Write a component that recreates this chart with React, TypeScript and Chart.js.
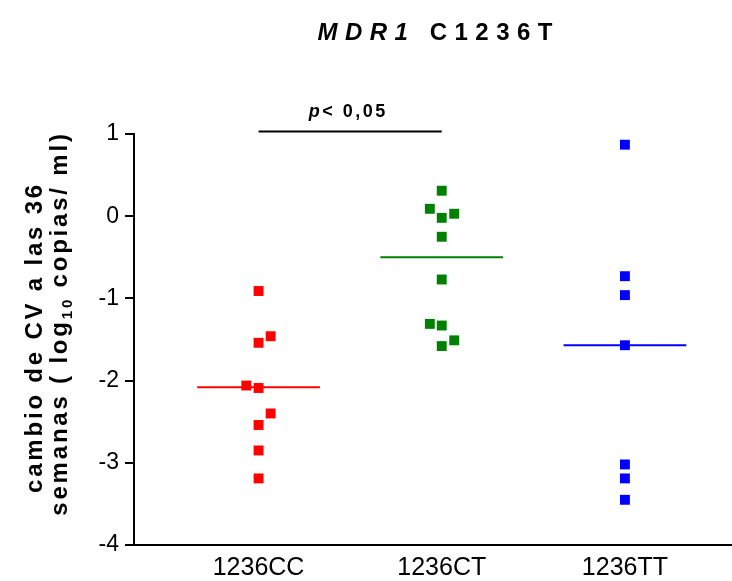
import React, { useEffect, useRef } from 'react';
import { Chart, registerables } from 'chart.js';

Chart.register(...registerables);

const categories = ['1236CC', '1236CT', '1236TT'];
const ccValues = [-0.91, -1.46, -1.54, -2.06, -2.09, -2.4, -2.54, -2.85, -3.19];
const ccJitter = [0, 0.066, 0, -0.067, 0, 0.066, 0, 0, 0];
const ctValues = [0.31, 0.09, 0.03, -0.02, -0.25, -0.77, -1.31, -1.33, -1.51, -1.58];
const ctJitter = [0, -0.065, 0.068, 0, 0, 0, -0.065, 0, 0.068, 0];
const ttValues = [0.87, -0.73, -0.96, -1.57, -3.02, -3.19, -3.45];
const ttJitter = [0, 0, 0, 0, 0, 0, 0];
const medians = [-2.08, -0.5, -1.57];
const groupColors = ['#ff0000', '#008000', '#0000ff'];
const sigFrom = 1;
const sigTo = 2;
const sigLevel = 1.03;
const sigText = ['p', '< 0,05'];
const titleParts = ['MDR1', ' C1236T'];
const yTitleLine1 = 'cambio de CV a las 36';
const yTitleLine2 = ['semanas ( log', '10', ' copias/ ml)'];

const FONT = '"Liberation Sans", Arial, Helvetica, sans-serif';

const groups = [
  { values: ccValues, jitter: ccJitter },
  { values: ctValues, jitter: ctJitter },
  { values: ttValues, jitter: ttJitter },
];

const annotationsPlugin = {
  id: 'annotations',
  afterDraw(chart: any) {
    const { ctx, chartArea, scales } = chart;
    const x = scales.x;
    const y = scales.y;
    ctx.save();
    ctx.fillStyle = '#000';
    ctx.strokeStyle = '#000';

    // Title
    ctx.textBaseline = 'alphabetic';
    ctx.textAlign = 'left';
    (ctx as any).letterSpacing = '7.5px';
    const f1 = `italic bold 24px ${FONT}`;
    const f2 = `bold 24px ${FONT}`;
    ctx.font = f1;
    const w1 = ctx.measureText(titleParts[0]).width;
    ctx.font = f2;
    const w2 = ctx.measureText(titleParts[1]).width;
    const cx = (x.getPixelForValue(1) + x.getPixelForValue(3)) / 2 - 3;
    const sx = cx - (w1 + w2) / 2;
    ctx.font = f1;
    ctx.fillText(titleParts[0], sx, 40);
    ctx.font = f2;
    ctx.fillText(titleParts[1], sx + w1, 40);

    // Significance bar
    const x1 = x.getPixelForValue(sigFrom);
    const x2 = x.getPixelForValue(sigTo);
    const yb = y.getPixelForValue(sigLevel);
    ctx.lineWidth = 2;
    ctx.beginPath();
    ctx.moveTo(x1, yb);
    ctx.lineTo(x2, yb);
    ctx.stroke();
    (ctx as any).letterSpacing = '2.5px';
    const p1 = `italic bold 18px ${FONT}`;
    const p2 = `bold 18px ${FONT}`;
    ctx.font = p1;
    const pw1 = ctx.measureText(sigText[0]).width;
    ctx.font = p2;
    const pw2 = ctx.measureText(sigText[1]).width;
    const px = (x1 + x2) / 2 - (pw1 + pw2) / 2 - 2;
    ctx.font = p1;
    ctx.fillText(sigText[0], px, yb - 15);
    ctx.font = p2;
    ctx.fillText(sigText[1], px + pw1, yb - 15);

    // Y axis title
    (ctx as any).letterSpacing = '2.8px';
    const mid = (chartArea.top + chartArea.bottom) / 2;
    const tf = `bold 24px ${FONT}`;
    const sf = `bold 15px ${FONT}`;
    ctx.save();
    ctx.translate(42, mid - 2);
    ctx.rotate(-Math.PI / 2);
    ctx.font = tf;
    ctx.textAlign = 'center';
    ctx.fillText(yTitleLine1, 0, 0);
    ctx.restore();

    ctx.save();
    ctx.translate(67, mid - 16);
    ctx.rotate(-Math.PI / 2);
    ctx.textAlign = 'left';
    ctx.font = tf;
    const a = ctx.measureText(yTitleLine2[0]).width;
    const c = ctx.measureText(yTitleLine2[2]).width;
    ctx.font = sf;
    const b = ctx.measureText(yTitleLine2[1]).width;
    let lx = -(a + b + c) / 2;
    ctx.font = tf;
    ctx.fillText(yTitleLine2[0], lx, 0);
    lx += a;
    ctx.font = sf;
    ctx.fillText(yTitleLine2[1], lx, 5);
    lx += b;
    ctx.font = tf;
    ctx.fillText(yTitleLine2[2], lx, 0);
    ctx.restore();

    ctx.restore();
  },
};

export default function App() {
  const ref = useRef<HTMLCanvasElement | null>(null);

  useEffect(() => {
    if (!ref.current) return;
    const pointSets = groups.map((g, i) => ({
      type: 'scatter' as const,
      data: g.values.map((v, j) => ({ x: i + 1 + g.jitter[j], y: v })),
      backgroundColor: groupColors[i],
      borderColor: groupColors[i],
      borderWidth: 0,
      pointStyle: 'rect',
      pointRadius: 7,
      pointHoverRadius: 7,
      order: 0,
    }));
    const medianSets = medians.map((m, i) => ({
      type: 'scatter' as const,
      data: [
        { x: i + 1 - 0.335, y: m },
        { x: i + 1 + 0.335, y: m },
      ],
      showLine: true,
      borderColor: groupColors[i],
      backgroundColor: groupColors[i],
      borderWidth: 2,
      pointRadius: 0,
      order: 1,
    }));

    const chart = new Chart(ref.current, {
      type: 'scatter',
      data: { datasets: [...pointSets, ...medianSets] as any },
      options: {
        animation: false,
        responsive: false,
        devicePixelRatio: 1,
        layout: { padding: { top: 134, left: 0, right: 0, bottom: 0 } },
        plugins: {
          legend: { display: false },
          tooltip: { enabled: false },
          title: { display: false },
        },
        scales: {
          x: {
            type: 'linear',
            min: 0.32,
            max: 3.59,
            afterBuildTicks: (scale: any) => {
              scale.ticks = categories.map((_, i) => ({ value: i + 1 }));
            },
            afterFit: (scale: any) => {
              scale.height = 36;
            },
            ticks: {
              autoSkip: false,
              maxRotation: 0,
              padding: 0,
              color: '#000',
              font: { family: FONT, size: 25 },
              callback: (v: any) => categories[Math.round(Number(v)) - 1] ?? '',
            },
            grid: { display: false },
            border: { display: true, color: '#000', width: 2 },
          },
          y: {
            type: 'linear',
            min: -4,
            max: 1,
            afterFit: (scale: any) => {
              scale.width = 134;
            },
            ticks: {
              stepSize: 1,
              padding: 6,
              color: '#000',
              font: { family: FONT, size: 23 },
            },
            grid: {
              drawOnChartArea: false,
              color: '#000',
              lineWidth: 2,
              tickLength: 9,
            },
            border: { display: true, color: '#000', width: 2 },
          },
        },
      },
      plugins: [annotationsPlugin],
    });
    return () => chart.destroy();
  }, []);

  return (
    <div style={{ position: 'absolute', left: 0, top: 0, width: 732, height: 581, overflow: 'hidden', background: '#fff' }}>
      <canvas ref={ref} width={740} height={581} style={{ display: 'block' }} />
    </div>
  );
}
